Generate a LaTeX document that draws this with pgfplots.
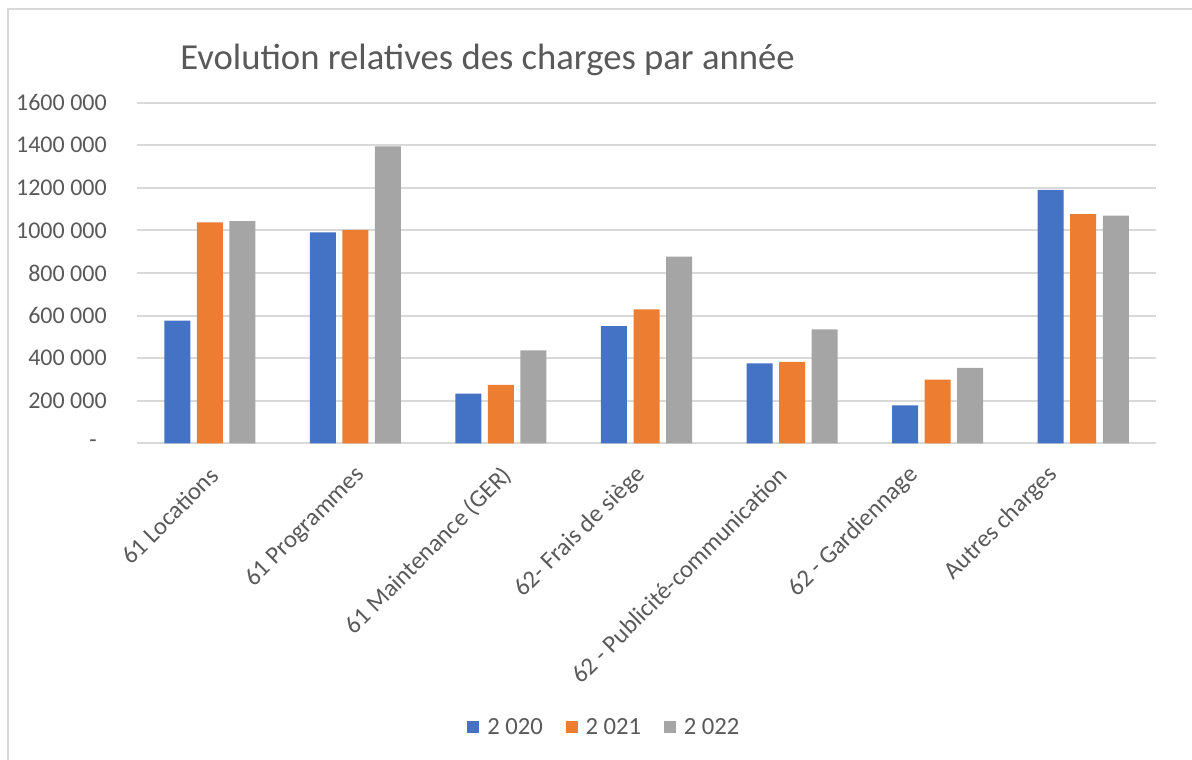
\documentclass[border=0pt]{standalone}
\usepackage{fontspec}
\setmainfont{Carlito}
\usepackage{pgfplots}
\pgfplotsset{compat=1.18}
\definecolor{c1}{HTML}{4472C4}
\definecolor{c2}{HTML}{ED7D31}
\definecolor{c3}{HTML}{A5A5A5}
\definecolor{txt}{HTML}{595959}
\definecolor{gridc}{HTML}{D9D9D9}
\begin{document}
\begin{tikzpicture}
\path[use as bounding box] (0,0) rectangle (894pt,-570pt);
\draw[gridc, line width=1.5pt] (6pt,-570pt) -- (6pt,-6.75pt) -- (894pt,-6.75pt);
\node[anchor=west, font=\fontsize{27.5}{32}\selectfont, text=txt, inner sep=0pt] at (135pt,-45pt) {Evolution relatives des charges par année};
\begin{axis}[
  at={(102.75pt,-332.5pt)}, anchor=south west,
  scale only axis, width=764.25pt, height=255.5pt,
  ybar=4.9pt, bar width=19.5pt,
  xmin=-0.5, xmax=6.5, ymin=0, ymax=1600000,
  scaled y ticks=false,
  xtick={0.03,1.04,2.05,2.965,3.94,4.84,5.80},
  xticklabels={61 Locations,61 Programmes,61 Maintenance (GER),62- Frais de siège,62 - Publicité-communication,62 - Gardiennage,Autres charges},
  ytick={0,200000,400000,600000,800000,1000000,1200000,1400000,1600000},
  yticklabels={-\hspace*{7.5pt},200 000,400 000,600 000,800 000,1000 000,1200 000,1400 000,1600 000},
  axis line style={draw=none},
  tick style={draw=none},
  major tick length=0pt,
  ymajorgrids,
  grid style={gridc, line width=1.5pt},
  yticklabel style={font=\fontsize{18}{22}\selectfont, text=txt, anchor=east, inner sep=0pt},
  yticklabel shift=22.5pt,
  xticklabel style={font=\fontsize{18.5}{22}\selectfont, text=txt, rotate=45, anchor=east, inner sep=0pt},
  xticklabel shift=21pt,
  legend columns=3,
  legend style={draw=none, fill=none, at={(0.459,-0.833)}, anchor=center,
    font=\fontsize{18.5}{22}\selectfont, text=txt,
    /tikz/every odd column/.append style={column sep=4pt},
    /tikz/every even column/.append style={column sep=15pt}},
]
\addplot[fill=c1, draw=none, legend image code/.code={\fill[c1] (0pt,-4.5pt) rectangle (9pt,4.5pt);}] coordinates {(0,576000) (1,991000) (2,233000) (3,551000) (4,376000) (5,178000) (6,1190000)};
\addplot[fill=c2, draw=none, legend image code/.code={\fill[c2] (0pt,-4.5pt) rectangle (9pt,4.5pt);}] coordinates {(0,1038000) (1,1002000) (2,275000) (3,629000) (4,383000) (5,299000) (6,1076000)};
\addplot[fill=c3, draw=none, legend image code/.code={\fill[c3] (0pt,-4.5pt) rectangle (9pt,4.5pt);}] coordinates {(0,1044000) (1,1395000) (2,437000) (3,877000) (4,535000) (5,354000) (6,1069000)};
\legend{2 020,2 021,2 022}
\end{axis}
\end{tikzpicture}
\end{document}
